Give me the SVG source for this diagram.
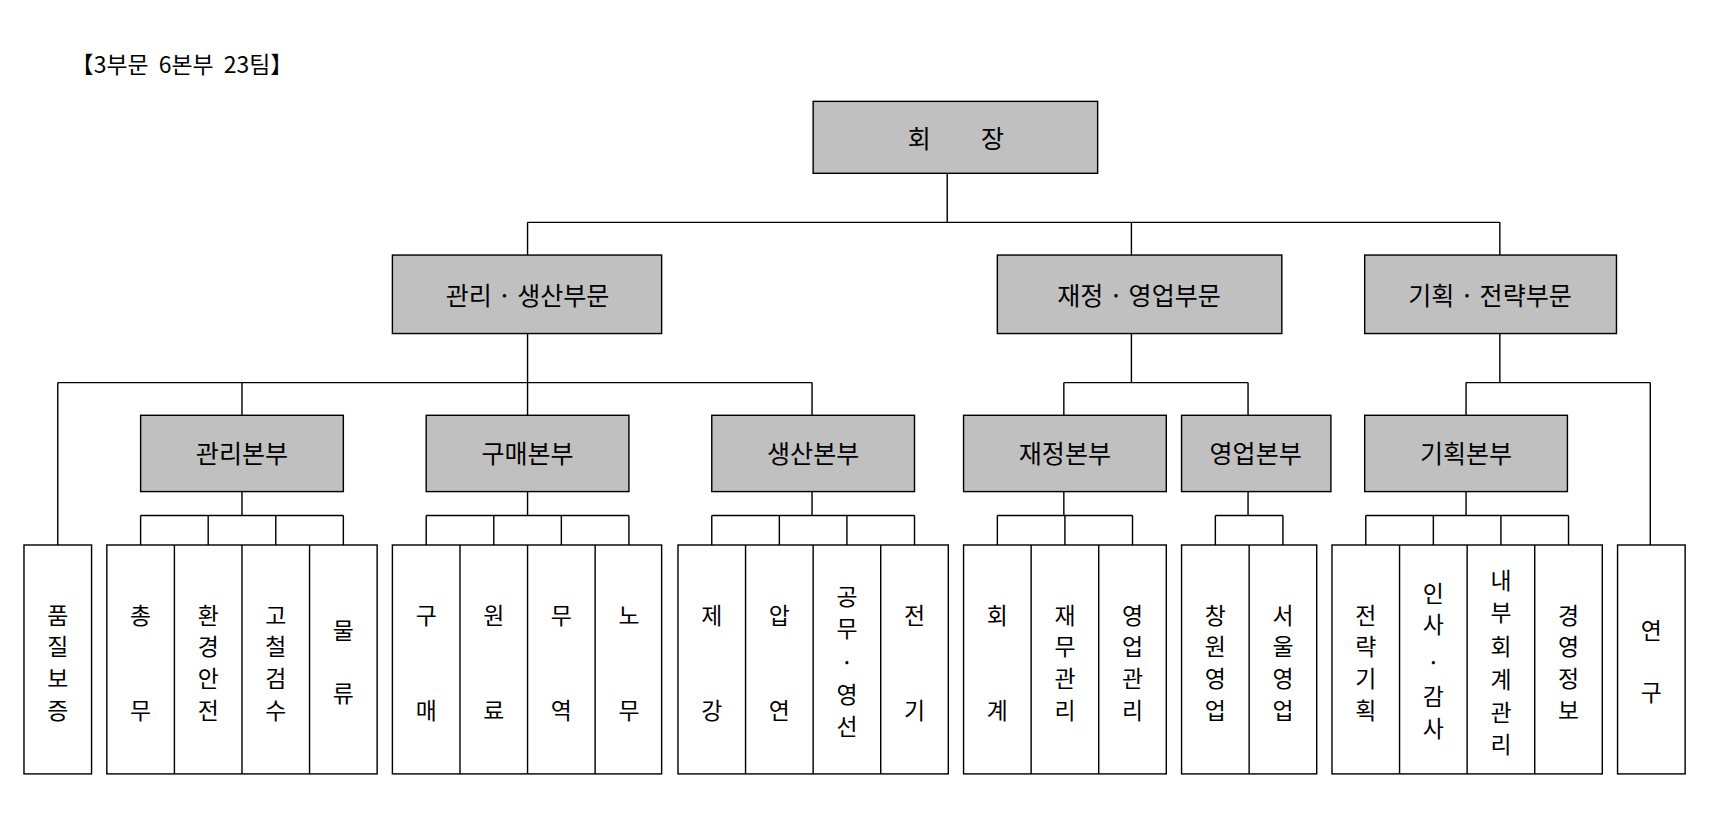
<svg xmlns="http://www.w3.org/2000/svg" width="1709" height="819" viewBox="0 0 1709 819">
<style>
.b{fill:#c0c0c0;stroke:#000;stroke-width:1.3}
.w{fill:#fff;stroke:#000;stroke-width:1.3}
.c{fill:none;stroke:#000;stroke-width:1.3}
text{font-family:"Noto Sans CJK KR","Noto Sans",sans-serif;font-size:23px;fill:#000;text-anchor:middle;dominant-baseline:central}
.v text{font-size:21px}
.t{font-size:21px;text-anchor:start;white-space:pre}
</style>
<rect width="1709" height="819" fill="#fff"/>
<g transform="scale(1.09)">
<text class="t" x="65" y="58" xml:space="preserve">【3부문  6본부  23팀】</text>
<g id="connectors">
<path class="c" d="M869 159V204M484 204H1376M484 204V234M1038 204V234M1376 204V234"/>
<path class="c" d="M484 306V351M53 351H745M53 351V500M222 351V381M484 351V381M745 351V381"/>
<path class="c" d="M1038 306V351M976 351H1145M976 351V381M1145 351V381"/>
<path class="c" d="M1376 306V351M1345 351H1514M1345 351V381M1514 351V500"/>
<path class="c" d="M222 451V473M129 473H315M129 473V500M191 473V500M253 473V500M315 473V500"/>
<path class="c" d="M484 451V473M391 473H577M391 473V500M453 473V500M515 473V500M577 473V500"/>
<path class="c" d="M745 451V473M653 473H839M653 473V500M715 473V500M777 473V500M839 473V500"/>
<path class="c" d="M976 451V473M915 473H1039M915 473V500M977 473V500M1039 473V500"/>
<path class="c" d="M1145 451V473M1115 473H1177M1115 473V500M1177 473V500"/>
<path class="c" d="M1345 451V473M1253 473H1439M1253 473V500M1315 473V500M1377 473V500M1439 473V500"/>
</g>
<g id="chairman"><rect class="b" x="746" y="93" width="261" height="66"/><text x="877" y="126">회　　장</text></g>
<g id="div1"><rect class="b" x="360" y="234" width="247" height="72"/><text x="484" y="270">관리 · 생산부문</text></g>
<g id="div2"><rect class="b" x="915" y="234" width="261" height="72"/><text x="1045" y="270">재정 · 영업부문</text></g>
<g id="div3"><rect class="b" x="1252" y="234" width="231" height="72"/><text x="1367" y="270">기획 · 전략부문</text></g>
<g id="hq1"><rect class="b" x="129" y="381" width="186" height="70"/><text x="222" y="415">관리본부</text></g>
<g id="hq2"><rect class="b" x="391" y="381" width="186" height="70"/><text x="484" y="415">구매본부</text></g>
<g id="hq3"><rect class="b" x="653" y="381" width="186" height="70"/><text x="746" y="415">생산본부</text></g>
<g id="hq4"><rect class="b" x="884" y="381" width="186" height="70"/><text x="977" y="415">재정본부</text></g>
<g id="hq5"><rect class="b" x="1084" y="381" width="137" height="70"/><text x="1152" y="415">영업본부</text></g>
<g id="hq6"><rect class="b" x="1252" y="381" width="186" height="70"/><text x="1345" y="415">기획본부</text></g>
<g class="v">
<g id="t-qa"><rect class="w" x="22" y="500" width="62" height="210"/><text x="53" y="563">품</text><text x="53" y="592">질</text><text x="53" y="621">보</text><text x="53" y="650">증</text></g>
<g id="t-research"><rect class="w" x="1484" y="500" width="62" height="210"/><text x="1515" y="577">연</text><text x="1515" y="634">구</text></g>
<g id="teams1"><rect class="w" x="98" y="500" width="248" height="210"/><path class="c" d="M160 500V710M222 500V710M284 500V710"/>
<text x="129" y="563">총</text><text x="129" y="650">무</text>
<text x="191" y="563">환</text><text x="191" y="592">경</text><text x="191" y="621">안</text><text x="191" y="650">전</text>
<text x="253" y="563">고</text><text x="253" y="592">철</text><text x="253" y="621">검</text><text x="253" y="650">수</text>
<text x="315" y="577">물</text><text x="315" y="635">류</text></g>
<g id="teams2"><rect class="w" x="360" y="500" width="247" height="210"/><path class="c" d="M422 500V710M484 500V710M546 500V710"/>
<text x="391" y="563">구</text><text x="391" y="650">매</text>
<text x="453" y="563">원</text><text x="453" y="650">료</text>
<text x="515" y="563">무</text><text x="515" y="650">역</text>
<text x="577" y="563">노</text><text x="577" y="650">무</text></g>
<g id="teams3"><rect class="w" x="622" y="500" width="248" height="210"/><path class="c" d="M684 500V710M746 500V710M808 500V710"/>
<text x="653" y="563">제</text><text x="653" y="650">강</text>
<text x="715" y="563">압</text><text x="715" y="650">연</text>
<text x="777" y="546">공</text><text x="777" y="575">무</text><text x="777" y="606">·</text><text x="777" y="636">영</text><text x="777" y="665">선</text>
<text x="839" y="563">전</text><text x="839" y="650">기</text></g>
<g id="teams4"><rect class="w" x="884" y="500" width="186" height="210"/><path class="c" d="M946 500V710M1008 500V710"/>
<text x="915" y="563">회</text><text x="915" y="650">계</text>
<text x="977" y="563">재</text><text x="977" y="592">무</text><text x="977" y="621">관</text><text x="977" y="650">리</text>
<text x="1039" y="563">영</text><text x="1039" y="592">업</text><text x="1039" y="621">관</text><text x="1039" y="650">리</text></g>
<g id="teams5"><rect class="w" x="1084" y="500" width="124" height="210"/><path class="c" d="M1146 500V710"/>
<text x="1115" y="563">창</text><text x="1115" y="592">원</text><text x="1115" y="621">영</text><text x="1115" y="650">업</text>
<text x="1177" y="563">서</text><text x="1177" y="592">울</text><text x="1177" y="621">영</text><text x="1177" y="650">업</text></g>
<g id="teams6"><rect class="w" x="1222" y="500" width="248" height="210"/><path class="c" d="M1284 500V710M1346 500V710M1408 500V710"/>
<text x="1253" y="563">전</text><text x="1253" y="592">략</text><text x="1253" y="621">기</text><text x="1253" y="650">획</text>
<text x="1315" y="543">인</text><text x="1315" y="572">사</text><text x="1315" y="606">·</text><text x="1315" y="638">감</text><text x="1315" y="667">사</text>
<text x="1377" y="531">내</text><text x="1377" y="561">부</text><text x="1377" y="592">회</text><text x="1377" y="622">계</text><text x="1377" y="652">관</text><text x="1377" y="682">리</text>
<text x="1439" y="563">경</text><text x="1439" y="592">영</text><text x="1439" y="621">정</text><text x="1439" y="650">보</text></g>
</g>
</g>
</svg>
